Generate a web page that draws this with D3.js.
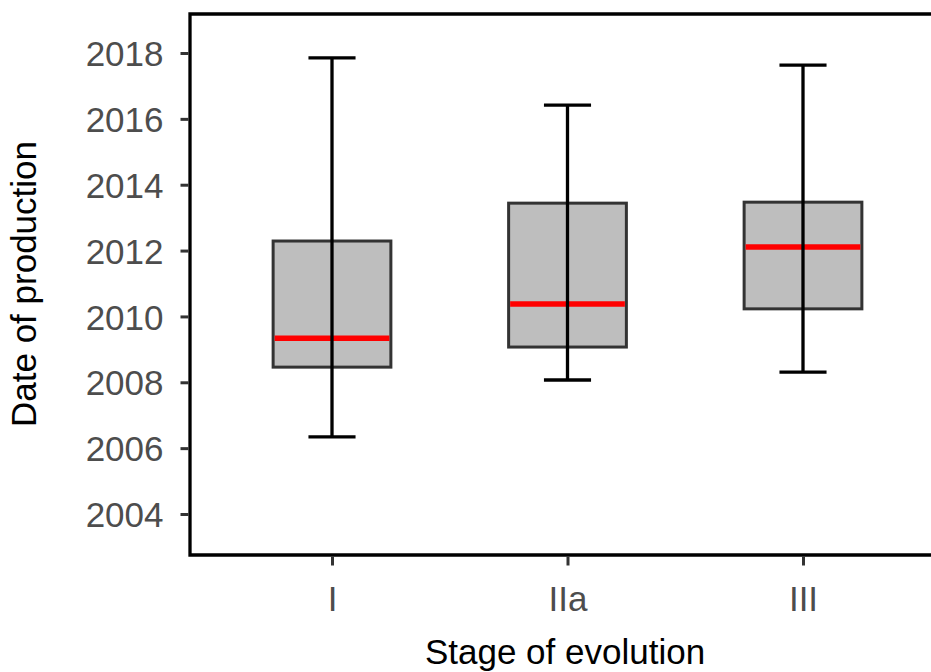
<!DOCTYPE html>
<html>
<head>
<meta charset="utf-8">
<script src="https://cdn.jsdelivr.net/npm/d3@7"></script>
<style>
  html, body { margin: 0; padding: 0; background: #fff; }
  svg { display: block; font-family: "Liberation Sans", Arial, sans-serif; }
</style>
</head>
<body>
<svg id="chart" width="931" height="672"></svg>
<script>
// ---- data ----
const categories = ["I", "IIa", "III"];
const whiskerLow  = [2006.34, 2008.07, 2008.31];
const q1          = [2008.46, 2009.07, 2010.23];
const median      = [2009.34, 2010.38, 2012.11];
const q3          = [2012.29, 2013.44, 2013.47];
const whiskerHigh = [2017.85, 2016.42, 2017.63];
const yTicks = [2004, 2006, 2008, 2010, 2012, 2014, 2016, 2018];
const xTitle = "Stage of evolution";
const yTitle = "Date of production";

const boxes = categories.map((c, i) => ({
  cat: c, lo: whiskerLow[i], q1: q1[i], med: median[i], q3: q3[i], hi: whiskerHigh[i]
}));

// ---- layout ----
const svg = d3.select("#chart");
const mLeft = 190, mTop = 14, mBottom = 555, mRight = 946;

const x = d3.scalePoint().domain(categories).range([332, 803]);
const step = x.step();
const y = d3.scaleLinear().domain([2004, 2018]).range([514, 53]);

const boxHalf = step * 0.25;
const capHalf = step * 0.1;

// boxes
const g = svg.append("g");
g.selectAll("rect.box").data(boxes).join("rect")
  .attr("class", "box")
  .attr("x", d => x(d.cat) - boxHalf)
  .attr("width", boxHalf * 2)
  .attr("y", d => y(d.q3))
  .attr("height", d => y(d.q1) - y(d.q3))
  .attr("fill", "#bebebe")
  .attr("stroke", "#333333")
  .attr("stroke-width", 3);

// medians
g.selectAll("line.med").data(boxes).join("line")
  .attr("class", "med")
  .attr("x1", d => x(d.cat) - boxHalf + 1.5)
  .attr("x2", d => x(d.cat) + boxHalf - 1.5)
  .attr("y1", d => y(d.med))
  .attr("y2", d => y(d.med))
  .attr("stroke", "#ff0000")
  .attr("stroke-width", 5.5);

// whisker vertical
g.selectAll("line.wv").data(boxes).join("line")
  .attr("class", "wv")
  .attr("x1", d => x(d.cat)).attr("x2", d => x(d.cat))
  .attr("y1", d => y(d.lo)).attr("y2", d => y(d.hi))
  .attr("stroke", "#000").attr("stroke-width", 3.3);

// caps
["lo", "hi"].forEach(k => {
  g.selectAll("line.cap" + k).data(boxes).join("line")
    .attr("class", "cap" + k)
    .attr("x1", d => x(d.cat) - capHalf).attr("x2", d => x(d.cat) + capHalf)
    .attr("y1", d => y(d[k])).attr("y2", d => y(d[k]))
    .attr("stroke", "#000").attr("stroke-width", 3.3);
});

// frame lines (top, left, bottom)
svg.append("path")
  .attr("d", `M${mRight},${mTop}H${mLeft}V${mBottom}H${mRight}`)
  .attr("fill", "none").attr("stroke", "#000").attr("stroke-width", 3.3)
  .attr("stroke-linecap", "square");

// y axis
const yAxis = svg.append("g").attr("transform", `translate(${mLeft - 1.5},0)`)
  .call(d3.axisLeft(y).tickValues(yTicks).tickFormat(d3.format("d")).tickSize(8).tickPadding(17));
yAxis.select(".domain").remove();
yAxis.selectAll(".tick line").attr("stroke", "#333333").attr("stroke-width", 3);
yAxis.selectAll(".tick text").attr("fill", "#4d4d4d").style("font-size", "35px")
  .attr("dy", "0.36em");

// x axis
const xAxis = svg.append("g").attr("transform", `translate(0,${mBottom + 1.5})`)
  .call(d3.axisBottom(x).tickSize(9).tickPadding(10));
xAxis.select(".domain").remove();
xAxis.selectAll(".tick line").attr("stroke", "#333333").attr("stroke-width", 3);
xAxis.selectAll(".tick text").attr("fill", "#4d4d4d").style("font-size", "35px")
  .attr("dy", null).attr("y", 0).attr("transform", "translate(0,54)");

// titles
svg.append("text").attr("x", 565).attr("y", 664)
  .attr("text-anchor", "middle").style("font-size", "35px").attr("fill", "#000")
  .text(xTitle);
svg.append("text").attr("transform", "translate(36,284) rotate(-90)")
  .attr("text-anchor", "middle").style("font-size", "35px").attr("fill", "#000")
  .text(yTitle);
</script>
</body>
</html>
